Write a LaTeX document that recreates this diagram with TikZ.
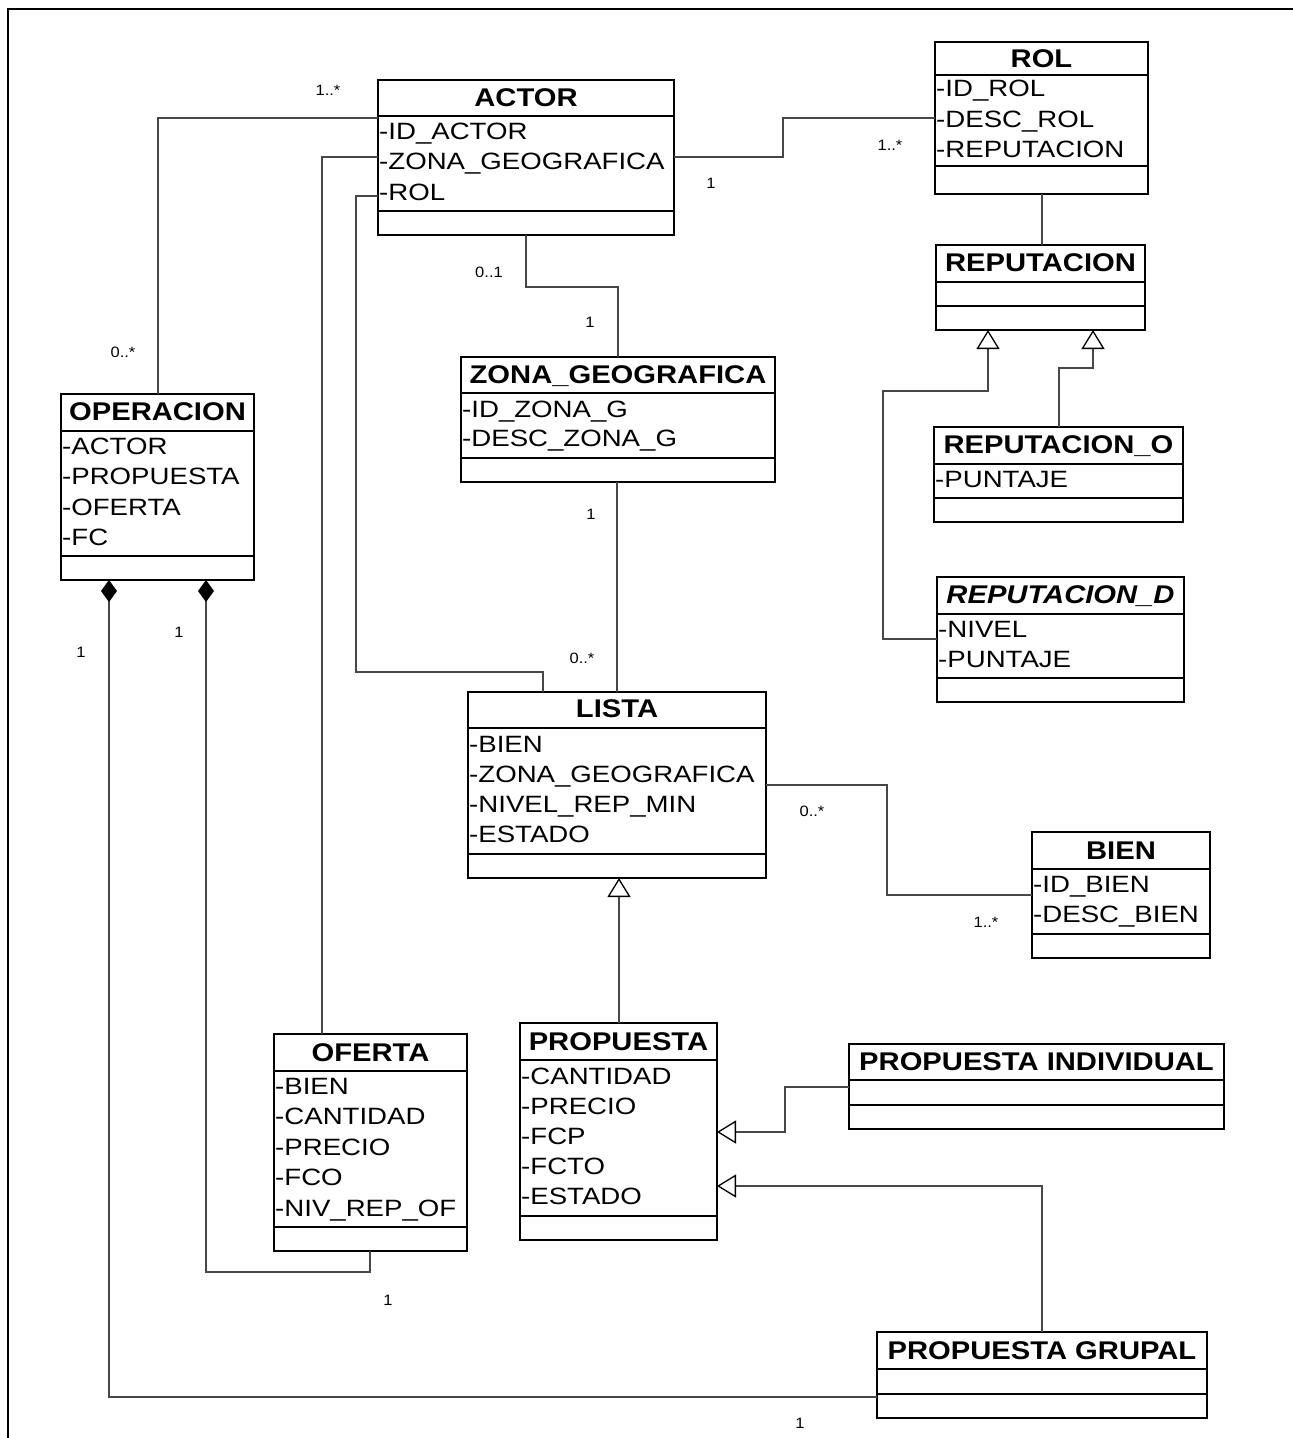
\documentclass[tikz,border=0pt]{standalone}
\usepackage{fontspec}
\setmainfont{Liberation Sans}
\usepackage{graphicx}
\usetikzlibrary{arrows.meta}
\newcommand{\hsT}[1]{\scalebox{1.14}[1]{#1}}
\newcommand{\hsA}[1]{\scalebox{1.17}[1]{#1}}
\newcommand{\hsM}[1]{\scalebox{1.1}[1]{#1}}
\newcommand{\umlbox}[7]{%
  \node[clsbox, minimum width={#4pt-#2pt}, minimum height={#5pt-#3pt}] (#1) at ({(#2+#4)/2},{(#3+#5)/2}) {};
  \draw[sepline] (#2,#6) -- (#4,#6);
  \draw[sepline] (#2,#7) -- (#4,#7);
}
\newcommand{\umltitle}[4]{\node[ttl] at ({(#1+#2)/2},#3) {\hsT{#4}};}
\newcommand{\umlattr}[3]{\node[attr] at (#1,#2) {\hsA{#3}};}
\tikzset{
  clsbox/.style={draw=black, line width=1.8pt, inner sep=0pt, outer sep=0pt},
  sepline/.style={draw=black, line width=1.8pt},
  ttl/.style={font=\fontsize{25.6}{30}\selectfont\bfseries, inner sep=0pt, text height=18.3pt, text depth=0pt, anchor=center},
  attr/.style={font=\fontsize{23.6}{28}\selectfont, inner sep=0pt, text height=16.9pt, text depth=0pt, anchor=west},
  mult/.style={font=\fontsize{15}{17}\selectfont, inner sep=0pt, text height=10.7pt, text depth=0pt},
  conn/.style={draw=black!72, line width=1.3pt},
  gen/.style={conn, -{Triangle[length=19pt, width=23pt, line width=1.3pt, color=black, fill=white]}},
  comp/.style={conn, {Diamond[length=22pt, width=16pt, color=black, fill=black]}-},
}
\begin{document}
\begin{tikzpicture}[x=1pt, y=-1pt]
\useasboundingbox (0,0) rectangle (1293,1438);
% frame
\draw[line width=2.5pt, black] (8,1438) -- (8,9) -- (1293,9);

% ACTOR
\umlbox{actor}{378}{80}{674}{235}{116}{211}
\umltitle{378}{674}{97}{ACTOR}
\umlattr{379}{131}{-ID\_ACTOR}
\umlattr{379}{161}{-ZONA\_GEOGRAFICA}
\umlattr{379}{192}{-ROL}

% ROL
\umlbox{rol}{935}{42}{1148}{194}{75}{166}
\umltitle{935}{1148}{58}{ROL}
\umlattr{936}{88}{-ID\_ROL}
\umlattr{936}{119}{-DESC\_ROL}
\umlattr{936}{149}{-REPUTACION}

% REPUTACION
\umlbox{rep}{936}{245}{1145}{330}{282}{306}
\umltitle{936}{1145}{262}{REPUTACION}

% OPERACION
\umlbox{oper}{61}{394}{254}{580}{431}{556}
\umltitle{61}{254}{411}{OPERACION}
\umlattr{62}{446}{-ACTOR}
\umlattr{62}{476}{-PROPUESTA}
\umlattr{62}{507}{-OFERTA}
\umlattr{62}{537}{-FC}

% ZONA_GEOGRAFICA
\umlbox{zona}{461}{357}{775}{482}{393}{458}
\umltitle{461}{775}{374}{ZONA\_GEOGRAFICA}
\umlattr{462}{409}{-ID\_ZONA\_G}
\umlattr{462}{438}{-DESC\_ZONA\_G}

% LISTA
\umlbox{lista}{468}{692}{766}{878}{728}{854}
\umltitle{468}{766}{708}{LISTA}
\umlattr{469}{744}{-BIEN}
\umlattr{469}{774}{-ZONA\_GEOGRAFICA}
\umlattr{469}{804}{-NIVEL\_REP\_MIN}
\umlattr{469}{834}{-ESTADO}

% REPUTACION_O
\umlbox{repo}{934}{427}{1183}{522}{464}{498}
\umltitle{934}{1183}{444}{REPUTACION\_O}
\umlattr{935}{479}{-PUNTAJE}

% REPUTACION_D
\umlbox{repd}{937}{577}{1184}{702}{614}{678}
\umltitle{937}{1184}{594}{\itshape REPUTACION\_D}
\umlattr{938}{629}{-NIVEL}
\umlattr{938}{659}{-PUNTAJE}

% BIEN
\umlbox{bien}{1032}{832}{1210}{958}{869}{934}
\umltitle{1032}{1210}{850}{BIEN}
\umlattr{1033}{884}{-ID\_BIEN}
\umlattr{1033}{914}{-DESC\_BIEN}

% OFERTA
\umlbox{oferta}{274}{1034}{467}{1251}{1071}{1227}
\umltitle{274}{467}{1052}{OFERTA}
\umlattr{275}{1086}{-BIEN}
\umlattr{275}{1116}{-CANTIDAD}
\umlattr{275}{1147}{-PRECIO}
\umlattr{275}{1177}{-FCO}
\umlattr{275}{1208}{-NIV\_REP\_OF}

% PROPUESTA
\umlbox{prop}{520}{1023}{717}{1240}{1060}{1216}
\umltitle{520}{717}{1041}{PROPUESTA}
\umlattr{521}{1076}{-CANTIDAD}
\umlattr{521}{1106}{-PRECIO}
\umlattr{521}{1136}{-FCP}
\umlattr{521}{1166}{-FCTO}
\umlattr{521}{1196}{-ESTADO}

% PROPUESTA INDIVIDUAL
\umlbox{pind}{849}{1044}{1224}{1129}{1080}{1105}
\umltitle{849}{1224}{1061}{PROPUESTA INDIVIDUAL}

% PROPUESTA GRUPAL
\umlbox{pgr}{877}{1332}{1207}{1418}{1369}{1394}
\umltitle{877}{1207}{1350}{PROPUESTA GRUPAL}

% connectors
\draw[conn] (actor.west |- 0,118) -| (oper.north -| 158,0);
\draw[conn] (actor.west |- 0,157) -| (oferta.north -| 322,0);
\draw[conn] (actor.west |- 0,196) -| (356,672) -| (lista.north -| 543,0);
\draw[conn] (actor.south) -- (actor.south |- 0,287) -| (zona.north);
\draw[conn] (actor.east |- 0,157) -| (783,118) -- (rol.west |- 0,118);
\draw[conn] (rol.south -| 1042,0) -- (rep.north -| 1042,0);
\draw[conn] (zona.south -| 617,0) -- (lista.north -| 617,0);
\draw[conn] (lista.east |- 0,785) -| (887,895) -- (bien.west |- 0,895);

\draw[gen] (prop.north -| 619,0) -- (lista.south -| 619,0);
\draw[gen] (repo.north -| 1059,0) |- (1093,368) -- (rep.south -| 1093,0);
\draw[gen] (repd.west |- 0,639) -| (883,391) -| (rep.south -| 988,0);
\draw[gen] (pind.west |- 0,1087) -| (785,1132) -- (prop.east |- 0,1132);
\draw[gen] (pgr.north -| 1042,0) |- (prop.east |- 0,1186);

\draw[comp] (oper.south -| 206,0) -- (206,1272) -| (oferta.south -| 370,0);
\draw[comp] (oper.south -| 109,0) |- (pgr.west |- 0,1397);

% multiplicities
\node[mult] (m1) at (328,90) {\hsM{1..*}};
\node[mult] (m2) at (711,183) {\hsM{1}};
\node[mult] (m3) at (890,145) {\hsM{1..*}};
\node[mult] (m4) at (489,272) {\hsM{0..1}};
\node[mult] (m5) at (590,322) {\hsM{1}};
\node[mult] (m6) at (123,352) {\hsM{0..*}};
\node[mult] (m7) at (591,514) {\hsM{1}};
\node[mult] (m8) at (582,658) {\hsM{0..*}};
\node[mult] (m9) at (179,632) {\hsM{1}};
\node[mult] (m10) at (81,652) {\hsM{1}};
\node[mult] (m11) at (812,811) {\hsM{0..*}};
\node[mult] (m12) at (986,922) {\hsM{1..*}};
\node[mult] (m13) at (388,1300) {\hsM{1}};
\node[mult] (m14) at (800,1423) {\hsM{1}};
\end{tikzpicture}
\end{document}
